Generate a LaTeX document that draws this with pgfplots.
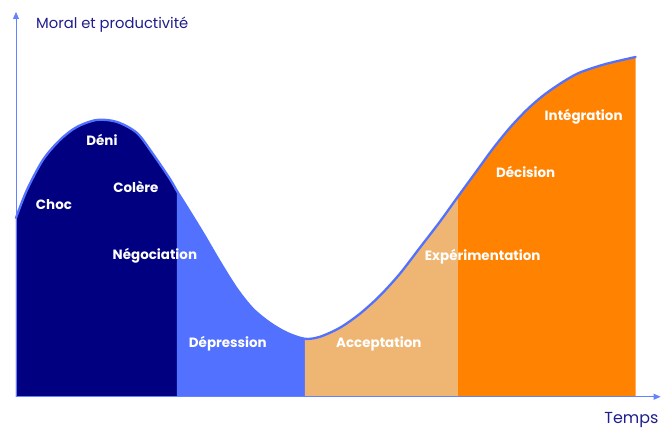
\documentclass[border=0pt]{standalone}
\usepackage{fontspec}
\setmainfont{Poppins}
\usepackage{pgfplots}
\pgfplotsset{compat=1.18}
\usetikzlibrary{arrows.meta}
\definecolor{navyfill}{RGB}{0,0,128}
\definecolor{bluefill}{RGB}{82,113,255}
\definecolor{tanfill}{RGB}{239,182,115}
\definecolor{orangefill}{RGB}{255,130,0}
\definecolor{curveblue}{RGB}{82,113,255}
\definecolor{axisblue}{RGB}{100,130,255}
\definecolor{titlenavy}{RGB}{30,30,140}
\begin{document}
\begin{tikzpicture}
\begin{axis}[
    width=661bp, height=427bp, scale only axis,
    xmin=0, xmax=661, ymin=-30, ymax=397,
    hide axis, clip=false,
]
% phases, one filled area each
\addplot[draw=none, fill=navyfill, smooth] coordinates {
    (16,179) (27,207) (43,237) (60,257) (77,270) (97,277) (117,275)
    (137,264) (153,243) (170,218) (177,206)
} \closedcycle;
\addplot[draw=none, fill=bluefill, smooth] coordinates {
    (177,206) (187,190) (203,164) (220,135) (237,108) (253,88) (270,74)
    (287,64) (305,58)
} \closedcycle;
\addplot[draw=none, fill=tanfill, smooth] coordinates {
    (305,58) (320,60) (340,69) (360,83) (380,101) (400,123) (420,149)
    (440,175) (458,200)
} \closedcycle;
\addplot[draw=none, fill=orangefill, smooth] coordinates {
    (458,200) (477,226) (493,248) (510,269) (527,287) (543,301) (560,313)
    (577,323) (593,329) (610,334) (636,340)
} \closedcycle;

% the curve on top
\addplot[curveblue, line width=2.3pt, smooth, line cap=round] coordinates {
    (16,179) (27,207) (43,237) (60,257) (77,270) (97,277) (117,275)
    (137,264) (153,243) (170,218) (177,206) (187,190) (203,164) (220,135)
    (237,108) (253,88) (270,74) (287,64) (305,58) (320,60) (340,69)
    (360,83) (380,101) (400,123) (420,149) (440,175) (458,200) (477,226)
    (493,248) (510,269) (527,287) (543,301) (560,313) (577,323) (593,329)
    (610,334) (636,340)
};

% axes
\draw[axisblue, line width=0.8pt, -{Triangle[length=7pt,width=6pt]}] (axis cs:16,0) -- (axis cs:16,385);
\draw[axisblue, line width=0.8pt, -{Triangle[length=7pt,width=6pt]}] (axis cs:16,0) -- (axis cs:661,0);

\node[anchor=base west, inner sep=0pt, text=titlenavy, font=\fontsize{14.8}{16}\selectfont] at (axis cs:36,368) {Moral et productivité};
\node[anchor=base east, inner sep=0pt, text=titlenavy, font=\fontsize{16}{18}\selectfont] at (axis cs:659,-27) {Temps};

\begin{scope}[every node/.style={anchor=base, inner sep=0pt, text=white, font=\fontsize{13.5}{15}\selectfont\bfseries}]
\node at (axis cs:54,187) {Choc};
\node at (axis cs:102,251) {Déni};
\node at (axis cs:136,204) {Colère};
\node at (axis cs:155,137) {Négociation};
\node at (axis cs:228,49) {Dépression};
\node at (axis cs:379,49) {Acceptation};
\node at (axis cs:483,136) {Expérimentation};
\node at (axis cs:526,219) {Décision};
\node at (axis cs:584,276) {Intégration};
\end{scope}
\path (axis cs:0,-30) rectangle (axis cs:661,397);
\end{axis}
\end{tikzpicture}
\end{document}
